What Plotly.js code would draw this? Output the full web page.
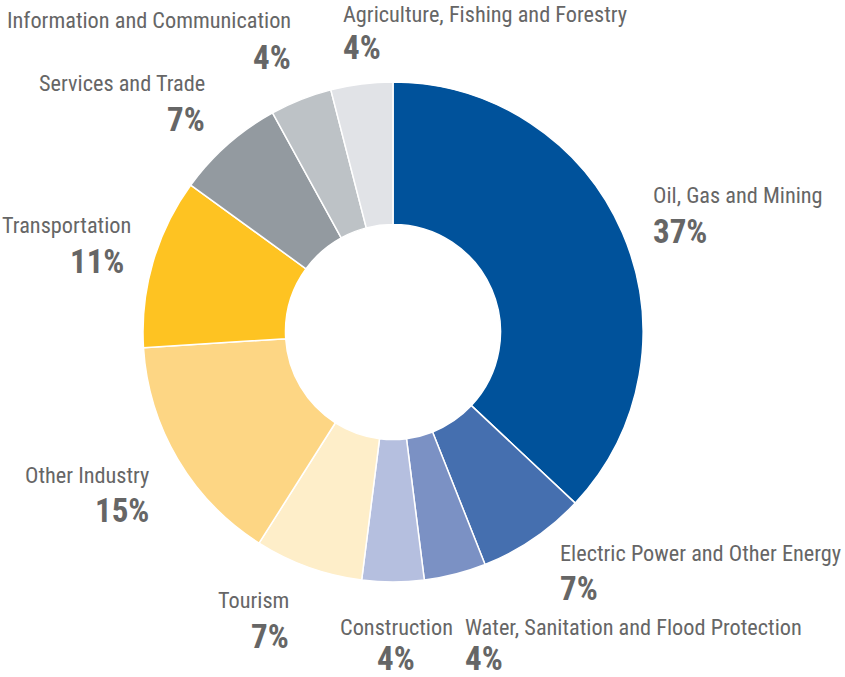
<!DOCTYPE html>
<html>
<head>
<meta charset="utf-8">
<script src="https://cdn.plot.ly/plotly-3.0.1.min.js"></script>
<style>html,body{margin:0;padding:0;background:#fff;}#chart{width:845px;height:677px;}</style>
</head>
<body>
<div id="chart"></div>
<script>
const sectors = ["Oil, Gas and Mining","Electric Power and Other Energy","Water, Sanitation and Flood Protection","Construction","Tourism","Other Industry","Transportation","Services and Trade","Information and Communication","Agriculture, Fishing and Forestry"];
const shares = [37,7,4,4,7,15,11,7,4,4];
const colors = ["#00529B","#456FAF","#7B91C4","#B5BFDF","#FEEEC9","#FDD684","#FEC322","#939AA0","#BDC2C6","#E1E3E7"];

const W = 845, H = 677;
// label placement (pixels): [xLabel, anchorLabel, yLabel, xPct, anchorPct, yPct]
const labelPos = [
  [651, "left", 195, 651, "left", 231],
  [558, "left", 553, 558, "left", 588],
  [463, "left", 627, 463, "left", 658],
  [396, "center", 627, 396, "center", 658],
  [291, "right", 600, 291, "right", 636],
  [151, "right", 475, 151, "right", 511],
  [0, "left", 225, 126, "right", 261],
  [207, "right", 83, 207, "right", 120],
  [293, "right", 20, 293, "right", 57],
  [341, "left", 14, 341, "left", 48]
];
const FONT = "'Liberation Sans Narrow', 'Roboto Condensed', 'Arial Narrow', 'Liberation Sans', sans-serif";
const annotations = [];
sectors.forEach((s, i) => {
  const p = labelPos[i];
  annotations.push({xref:"paper", yref:"paper", x:p[0]/W, y:1-p[2]/H, xanchor:p[1], yanchor:"middle", text:s, showarrow:false, font:{family:FONT, size:22.3, color:"#666666"}});
  annotations.push({xref:"paper", yref:"paper", x:p[3]/W, y:1-p[5]/H, xanchor:p[4], yanchor:"middle", text:"<b>"+shares[i]+"%</b>", showarrow:false, font:{family:FONT, size:33, color:"#666666"}});
});

const cx = 393, cy = 332, r = 250;
Plotly.newPlot("chart", [{
  type:"pie", values:shares, labels:sectors, sort:false, direction:"clockwise", rotation:0,
  hole:0.43, textinfo:"none", hoverinfo:"label+percent",
  marker:{colors:colors, line:{color:"#ffffff", width:1.5}},
  domain:{x:[(cx-r)/W,(cx+r)/W], y:[(H-cy-r)/H,(H-cy+r)/H]}
}], {
  width:W, height:H, margin:{l:0,r:0,t:0,b:0}, showlegend:false,
  paper_bgcolor:"#ffffff", annotations:annotations
}, {displayModeBar:false, staticPlot:true});
</script>
</body>
</html>
